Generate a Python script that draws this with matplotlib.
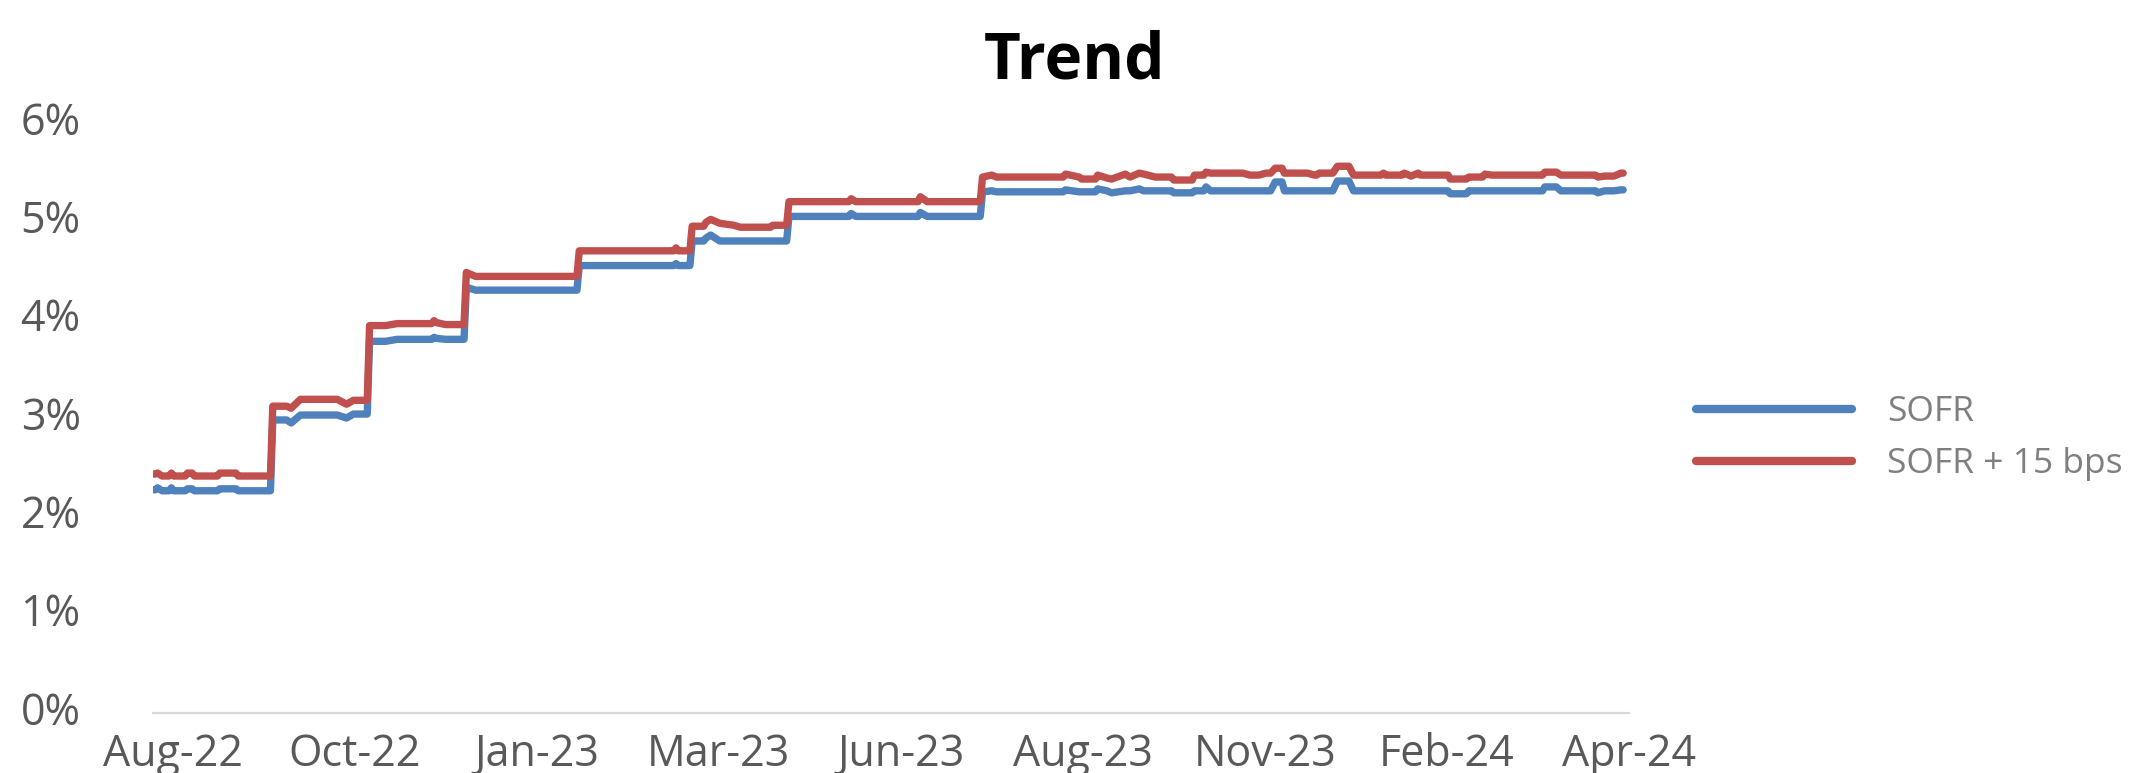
import pandas as pd
import matplotlib.pyplot as plt
import matplotlib.transforms as mtransforms
from matplotlib.ticker import FuncFormatter

# dates where the daily rate changes (flat in between)
dates = [
    "2022-08-01", "2022-08-02", "2022-08-03", "2022-08-05", "2022-08-08", "2022-08-09", "2022-08-10", "2022-08-15",
    "2022-08-16", "2022-08-18", "2022-08-19", "2022-08-29", "2022-08-30", "2022-09-06", "2022-09-07", "2022-09-21",
    "2022-09-22", "2022-09-28", "2022-09-30", "2022-10-04", "2022-10-20", "2022-10-24", "2022-10-27", "2022-11-02",
    "2022-11-03", "2022-11-10", "2022-11-15", "2022-11-30", "2022-12-01", "2022-12-02", "2022-12-06", "2022-12-14",
    "2022-12-15", "2022-12-19", "2023-02-01", "2023-02-02", "2023-03-15", "2023-03-16", "2023-03-17", "2023-03-22",
    "2023-03-23", "2023-03-28", "2023-03-29", "2023-03-31", "2023-04-04", "2023-04-10", "2023-04-13", "2023-04-26",
    "2023-04-27", "2023-05-03", "2023-05-04", "2023-05-30", "2023-05-31", "2023-06-02", "2023-06-29", "2023-06-30",
    "2023-07-03", "2023-07-26", "2023-07-27", "2023-07-31", "2023-08-02", "2023-08-31", "2023-09-01", "2023-09-07",
    "2023-09-08", "2023-09-14", "2023-09-15", "2023-09-19", "2023-09-21", "2023-09-27", "2023-09-29", "2023-10-03",
    "2023-10-05", "2023-10-10", "2023-10-17", "2023-10-18", "2023-10-26", "2023-10-27", "2023-10-31", "2023-11-01",
    "2023-11-03", "2023-11-17", "2023-11-20", "2023-11-24", "2023-11-27", "2023-11-29", "2023-12-01", "2023-12-04",
    "2023-12-05", "2023-12-15", "2023-12-18", "2023-12-19", "2023-12-20", "2023-12-26", "2023-12-28", "2024-01-02",
    "2024-01-04", "2024-01-16", "2024-01-17", "2024-01-18", "2024-01-25", "2024-01-26", "2024-01-29", "2024-02-01",
    "2024-02-02", "2024-02-14", "2024-02-15", "2024-02-22", "2024-02-23", "2024-02-29", "2024-03-01", "2024-03-04",
    "2024-03-26", "2024-03-27", "2024-04-01", "2024-04-03", "2024-04-12", "2024-04-15", "2024-04-18", "2024-04-19",
    "2024-04-22", "2024-04-26", "2024-04-29", "2024-04-30",
]

sofr = [
    2.27, 2.27, 2.29, 2.26, 2.26, 2.29, 2.26, 2.26,
    2.28, 2.28, 2.26, 2.26, 2.28, 2.28, 2.26, 2.26,
    2.98, 2.98, 2.95, 3.03, 3.03, 3.00, 3.04, 3.04,
    3.78, 3.78, 3.80, 3.80, 3.82, 3.81, 3.80, 3.80,
    4.33, 4.30, 4.30, 4.55, 4.55, 4.57, 4.55, 4.55,
    4.80, 4.80, 4.83, 4.86, 4.80, 4.80, 4.80, 4.80,
    4.80, 4.80, 5.05, 5.05, 5.08, 5.05, 5.05, 5.09,
    5.05, 5.05, 5.30, 5.31, 5.30, 5.30, 5.32, 5.30,
    5.30, 5.30, 5.33, 5.31, 5.29, 5.31, 5.31, 5.33,
    5.31, 5.31, 5.31, 5.29, 5.29, 5.31, 5.31, 5.35,
    5.31, 5.31, 5.31, 5.31, 5.31, 5.31, 5.40, 5.40,
    5.31, 5.31, 5.31, 5.31, 5.31, 5.31, 5.41, 5.41,
    5.31, 5.31, 5.31, 5.31, 5.31, 5.31, 5.31, 5.31,
    5.31, 5.31, 5.28, 5.28, 5.31, 5.31, 5.31, 5.31,
    5.31, 5.35, 5.35, 5.31, 5.31, 5.31, 5.31, 5.29,
    5.31, 5.31, 5.32, 5.32,
]

sofr_15 = [
    2.43, 2.43, 2.44, 2.41, 2.41, 2.44, 2.41, 2.41,
    2.44, 2.44, 2.41, 2.41, 2.44, 2.44, 2.41, 2.41,
    3.12, 3.12, 3.10, 3.19, 3.19, 3.14, 3.18, 3.18,
    3.94, 3.94, 3.96, 3.96, 3.99, 3.97, 3.95, 3.95,
    4.48, 4.44, 4.44, 4.70, 4.70, 4.73, 4.70, 4.70,
    4.95, 4.95, 4.99, 5.02, 4.98, 4.96, 4.94, 4.94,
    4.96, 4.96, 5.20, 5.20, 5.23, 5.20, 5.20, 5.25,
    5.20, 5.20, 5.45, 5.47, 5.45, 5.45, 5.48, 5.45,
    5.43, 5.43, 5.47, 5.44, 5.43, 5.48, 5.45, 5.49,
    5.48, 5.45, 5.45, 5.42, 5.42, 5.47, 5.47, 5.50,
    5.49, 5.49, 5.47, 5.47, 5.49, 5.49, 5.54, 5.54,
    5.49, 5.49, 5.47, 5.47, 5.49, 5.49, 5.56, 5.56,
    5.47, 5.47, 5.49, 5.47, 5.47, 5.49, 5.46, 5.49,
    5.47, 5.47, 5.43, 5.43, 5.45, 5.45, 5.48, 5.47,
    5.47, 5.50, 5.50, 5.47, 5.47, 5.47, 5.47, 5.45,
    5.46, 5.46, 5.49, 5.49,
]

tick_labels = ["Aug-22", "Oct-22", "Jan-23", "Mar-23", "Jun-23", "Aug-23", "Nov-23", "Feb-24", "Apr-24"]

x = pd.to_datetime(dates)

plt.rcParams['font.family'] = ['Open Sans', 'DejaVu Sans']

fig = plt.figure(figsize=(21.36, 7.73), dpi=100)
ax = fig.add_axes([0.0716, 0.0776, 0.6910, 0.7633])

ax.plot(x, sofr, color='#4F81BD', lw=5.3, solid_capstyle='round', solid_joinstyle='round', label='SOFR')
ax.plot(x, sofr_15, color='#C0504D', lw=5.3, solid_capstyle='round', solid_joinstyle='round', label='SOFR + 15 bps')

ax.set_ylim(0, 6)
ax.set_xlim(x[0], x[-1])
ax.set_yticks(range(0, 7))
ax.yaxis.set_major_formatter(FuncFormatter(lambda v, p: f"{v:.0f}%"))

# excel date axis: major unit of 79 days, labels sit a little right of the tick
ticks = pd.date_range(x[0], periods=len(tick_labels), freq='79D') + pd.Timedelta(hours=204)
ax.set_xticks(ticks)
ax.set_xticklabels(tick_labels)

ax.tick_params(axis='x', length=0, pad=14, labelsize=31, labelcolor='#595959')
ax.tick_params(axis='y', length=0, pad=52, labelsize=31, labelcolor='#595959')

for side in ['top', 'right', 'left']:
    ax.spines[side].set_visible(False)
ax.spines['bottom'].set_color('#D9D9D9')
ax.spines['bottom'].set_linewidth(1.6)

fig.text(0.503, 0.899, 'Trend', ha='center', va='baseline', fontsize=46, fontweight='bold', color='black')

leg = fig.legend(loc='center left', bbox_to_anchor=(0.7940, 0.4333), frameon=False,
                 fontsize=25.5, handlelength=4.4, handletextpad=1.0, labelspacing=0.5,
                 borderpad=0, borderaxespad=0)
for t in leg.get_texts():
    t.set_color('#7F7F7F')
for h in leg.get_lines():
    h.set_linewidth(6)
    h.set_solid_capstyle('round')

# y labels sit a few px above their value in the original
fig.canvas.draw()
up = mtransforms.ScaledTranslation(0, 0.05, fig.dpi_scale_trans)
for lbl in ax.get_yticklabels():
    lbl.set_transform(lbl.get_transform() + up)

fig.savefig('out.png', dpi=100)
